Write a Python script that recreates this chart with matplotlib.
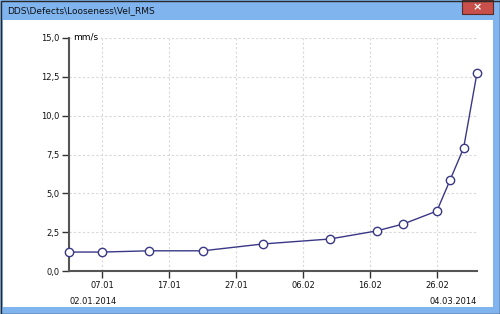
import datetime as dt
import matplotlib
matplotlib.use("Agg")
import matplotlib.pyplot as plt
import matplotlib.dates as mdates
from matplotlib.patches import Rectangle
from matplotlib.ticker import FuncFormatter

# data
dates = ["2014-01-02", "2014-01-07", "2014-01-14", "2014-01-22", "2014-01-31", "2014-02-10",
         "2014-02-17", "2014-02-21", "2014-02-26", "2014-02-28", "2014-03-02", "2014-03-04"]
vel_rms = [1.22, 1.22, 1.30, 1.30, 1.74, 2.06, 2.58, 3.03, 3.86, 5.88, 7.92, 12.75]
tick_dates = ["2014-01-07", "2014-01-17", "2014-01-27", "2014-02-06", "2014-02-16", "2014-02-26"]
y_ticks = [0, 2.5, 5, 7.5, 10, 12.5, 15]
title = "DDS\\Defects\\Looseness\\Vel_RMS"
unit = "mm/s"
start_label = "02.01.2014"
end_label = "04.03.2014"

x = [dt.datetime.strptime(d, "%Y-%m-%d") for d in dates]
xt = [dt.datetime.strptime(d, "%Y-%m-%d") for d in tick_dates]

W, H = 500, 314
fig = plt.figure(figsize=(W / 100, H / 100), dpi=100)
fig.patch.set_facecolor("#7fb4ee")

def px(x0, y0, w, h, z=-10, **kw):
    # rectangle in pixel coords (top-left origin)
    r = Rectangle((x0 / W, 1 - (y0 + h) / H), w / W, h / H, transform=fig.transFigure,
                  zorder=z, **kw)
    fig.patches.append(r)

px(3, 20, 490, 287, facecolor="white", edgecolor="none")
px(0.5, 0.5, W - 1, H - 1, z=10, facecolor="none", edgecolor="#2a2a2a", lw=1)
px(462, 0, 31, 14, z=5, facecolor="#c9504a", edgecolor="#5a2a28", lw=0.8)
fig.text(477.5 / W, 1 - 7 / H, "×", color="white", fontsize=8, fontweight="bold",
         ha="center", va="center", zorder=6)
fig.text(7 / W, 1 - 11 / H, title, fontsize=6.5, color="#111111", ha="left", va="center")

ax = fig.add_axes([69 / W, 1 - 271 / H, 408 / W, 233 / H])
ax.set_facecolor("none")
ax.plot(x, vel_rms, color="#3a3886", lw=1, marker="o", markersize=6,
        markerfacecolor="white", markeredgecolor="#3a3886", markeredgewidth=1, zorder=3,
        clip_on=False)

ax.set_xlim(dt.datetime(2014, 1, 2), dt.datetime(2014, 3, 4))
ax.set_ylim(0, 15)
ax.set_xticks(xt)
ax.xaxis.set_major_formatter(mdates.DateFormatter("%d.%m"))
ax.set_yticks(y_ticks)
ax.yaxis.set_major_formatter(FuncFormatter(lambda v, p: f"{v:.1f}".replace(".", ",")))

ax.grid(True, color="#d8d8d8", linestyle=(0, (2, 2)), lw=0.8)
for s in ["top", "right"]:
    ax.spines[s].set_visible(False)
for s in ["left", "bottom"]:
    ax.spines[s].set_color("#555555")
    ax.spines[s].set_linewidth(1.5)
ax.tick_params(axis="both", length=5, width=1, color="#333333", labelsize=6, labelcolor="#111111", pad=2)

ax.text(73 / W, 1 - 37 / H, unit, transform=fig.transFigure, fontsize=6.5, ha="left",
        va="center", bbox=dict(facecolor="white", edgecolor="none", pad=1))
fig.text(69 / W, 1 - 301 / H, start_label, fontsize=6, ha="left", va="center", color="#111111")
fig.text(477 / W, 1 - 301 / H, end_label, fontsize=6, ha="right", va="center", color="#111111")

fig.savefig("out.png", dpi=100, facecolor=fig.get_facecolor())
